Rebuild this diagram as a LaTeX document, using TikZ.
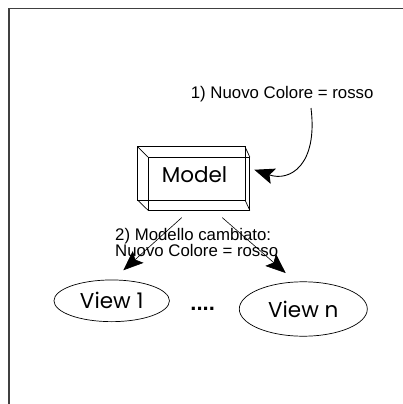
\documentclass[tikz,border=0pt]{standalone}
\usepackage{fontspec}
\setmainfont{Liberation Sans}
\newfontfamily\geofont{Poppins}
\usetikzlibrary{shapes.geometric,arrows.meta}
\begin{document}
\begin{tikzpicture}[x=1pt,y=-1pt,
  frameline/.style={line width=1.3pt, black!75},
  boxline/.style={line width=0.7pt},
  msg/.style={-{Stealth[length=20pt,width=16pt,inset=4pt]}, line width=0.6pt},
  geotext/.style={font=\geofont\fontsize{21.5}{24}\selectfont},
  view/.style={ellipse, draw, line width=0.7pt, inner sep=0pt, geotext},
  notetext/.style={inner sep=0pt, font=\fontsize{16.8}{16}\selectfont, align=left}]
 \useasboundingbox (0,0) rectangle (403,404);
 % page frame (top and left edges)
 \draw[frameline] (9,404) -- (9,8.5) -- (403,8.5);

 % the model, drawn as a box in perspective
 \draw[boxline] (137.5,146.7) rectangle (245,200);
 \node[draw, boxline, minimum width=101pt, minimum height=52.5pt, inner sep=0pt] (face) at (199,183.75) {};
 \draw[boxline] (137.5,146.7) -- (face.north west)
                (245,146.7) -- (face.north east)
                (137.5,200) -- (face.south west)
                (245,200) -- (face.south east);
 \node[geotext, inner sep=0pt] (model) at (194.5,174.5) {Model};

 % views
 \node[view, minimum width=115.5pt, minimum height=41.7pt] (v1) at (111.7,300.8) {View 1};
 \node[view, minimum width=128pt, minimum height=54.4pt] (vn) at (303.3,309) {View n};
 \node[anchor=base, inner sep=0pt, font=\bfseries\fontsize{22}{22}\selectfont] (dots) at (202.7,310) {....};

 % messages
 \node[notetext, anchor=base west] (note1) at (190.7,98.3) {1) Nuovo Colore = rosso};
 \coordinate (c1start) at (311,108);
 \draw[msg, line width=0.9pt] (c1start) .. controls (318,165) and (290,182) .. ([shift={(4.5,-14)}]face.east);

 \node[notetext, anchor=north west] (note2) at (115,228) {2) Modello cambiato:\\Nuovo Colore = rosso};
 \draw[msg] ([shift={(-17.3,7.3)}]face.south) -- ([shift={(11.6,-9.3)}]v1.north);
 \draw[msg] ([shift={(23.3,7.3)}]face.south) -- ([shift={(-17.6,-8.4)}]vn.north);
\end{tikzpicture}
\end{document}
